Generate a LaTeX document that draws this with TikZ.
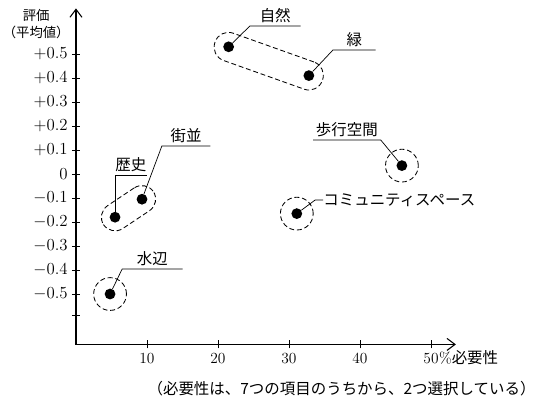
\documentclass[tikz,border=0pt]{standalone}
\usepackage{fontspec}
\newfontfamily\cjk{Noto Sans CJK JP}
\usetikzlibrary{arrows.meta,positioning,fit,calc}

\begin{document}
\begin{tikzpicture}[
    x=0.1775cm, y=6cm,
    >={Straight Barb[length=2mm,width=3mm]},
    axis/.style={line width=0.75pt},
    tick/.style={line width=0.6pt},
    num/.style={font=\fontsize{11}{13}\selectfont, inner sep=0pt},
    dot/.style={circle, fill=black, inner sep=0pt, minimum size=0.27cm},
    ring/.style={circle, draw, dash pattern=on 3.5pt off 2pt, line width=0.6pt, inner sep=0pt, minimum size=0.82cm},
    pill/.style={draw, dash pattern=on 3.5pt off 2pt, line width=0.6pt, rounded corners=0.35cm, inner sep=0.225cm},
    tag/.style={font=\fontsize{11}{13}\cjk, inner xsep=0pt, inner ysep=2pt, anchor=south west},
    leader/.style={line width=0.5pt}
]
\useasboundingbox (-10.7,-0.9625) rectangle (65.35,0.725);

% Axes
\coordinate (ytop) at (0,0.69);
\coordinate (xend) at (53.5,-0.71);
\draw[axis, <->] (ytop) |- (xend);

% Ticks - value axis
\foreach \v/\t [count=\i] in {0.5/+0.5, 0.4/+0.4, 0.3/+0.3, 0.2/+0.2, 0.1/+0.1, 0/0,
    -0.1/-0.1, -0.2/-0.2, -0.3/-0.3, -0.4/-0.4, -0.5/-0.5} {
    \draw[tick] ([xshift=-0.1cm]0,\v) -- ([xshift=0.1cm]0,\v);
    \node[num, font=\fontsize{12}{14}\selectfont, anchor=east] (yl\i) at ([xshift=-0.2cm]0,\v) {$\t$};
}
\draw[tick] ([xshift=-0.1cm]0,-0.59) -- ([xshift=0.1cm]0,-0.59);

% Ticks - percent axis
\foreach \x in {10,20,30,40,50} {
    \draw[tick] ([yshift=-0.1cm]\x,-0.71) -- ([yshift=0.1cm]\x,-0.71);
    \node[num, anchor=north] (xl\x) at ([yshift=-0.22cm]\x,-0.71) {\x};
}
\node[num, anchor=base west] (xunit) at (xl50.base east) {\%\cjk 必要性};

% Axis titles
\node[font=\fontsize{9.5}{12}\cjk, align=center, inner sep=0pt] (ylab) at (-5.6,0.623) {評価\\（平均値）};
\node[font=\fontsize{11}{13}\cjk, inner sep=0pt] (note) at (37.4,-0.896) {（必要性は、7つの項目のうちから、2つ選択している）};

% Points
\node[dot] (shizen) at (21.5,0.53) {};
\node[dot] (midori) at (32.8,0.41) {};
\node[dot] (hoko) at (45.9,0.035) {};
\node[dot] (komyu) at (31.1,-0.165) {};
\node[dot] (rekishi) at (5.5,-0.18) {};
\node[dot] (machi) at (9.3,-0.105) {};
\node[dot] (mizube) at (4.8,-0.5) {};

% Groups
\node[pill, rotate fit=-19.6, fit=(shizen)(midori)] (shizenG) {};
\node[pill, rotate fit=33.7, fit=(rekishi)(machi)] (rekishiG) {};
\node[ring] (hokoR) at (hoko) {};
\node[ring] (komyuR) at (komyu) {};
\node[ring] (mizubeR) at (mizube) {};

% Labels
\node[tag, minimum width=1.25cm] (shizenT) at (24.5,0.617) {自然};
\node[tag, minimum width=1.05cm] (midoriT) at (36.2,0.517) {緑};
\node[tag, minimum width=1.675cm] (hokoT) at (33.4,0.142) {歩行空間};
\node[tag, minimum width=0.75cm] (rekishiT) at (5.5,-0.004) {歴史};
\node[tag, minimum width=1.2cm] (machiT) at (12.1,0.117) {街並};
\node[tag, minimum width=1.5cm] (mizubeT) at (6.5,-0.396) {水辺};
\coordinate (komyuA) at (33.7,-0.108);
\node[font=\fontsize{11}{13}\cjk, anchor=west, inner sep=0pt] (komyuT) at (34.8,-0.108) {コミュニティスペース};

% Leaders
\draw[leader] (shizen) -- (shizenT.south west) -- (shizenT.south east);
\draw[leader] (midori) -- (midoriT.south west) -- (midoriT.south east);
\draw[leader] (hoko) -- (hokoT.south east) -- (hokoT.south west);
\draw[leader] (rekishi) -- (rekishiT.south west) -- (rekishiT.south east);
\draw[leader] (machi) -- (machiT.south west) -- (machiT.south east);
\draw[leader] (mizube) -- (mizubeT.south west) -- (mizubeT.south east);
\draw[leader] (komyu) -- (komyuA) -- (komyuT.west);

\end{tikzpicture}
\end{document}
